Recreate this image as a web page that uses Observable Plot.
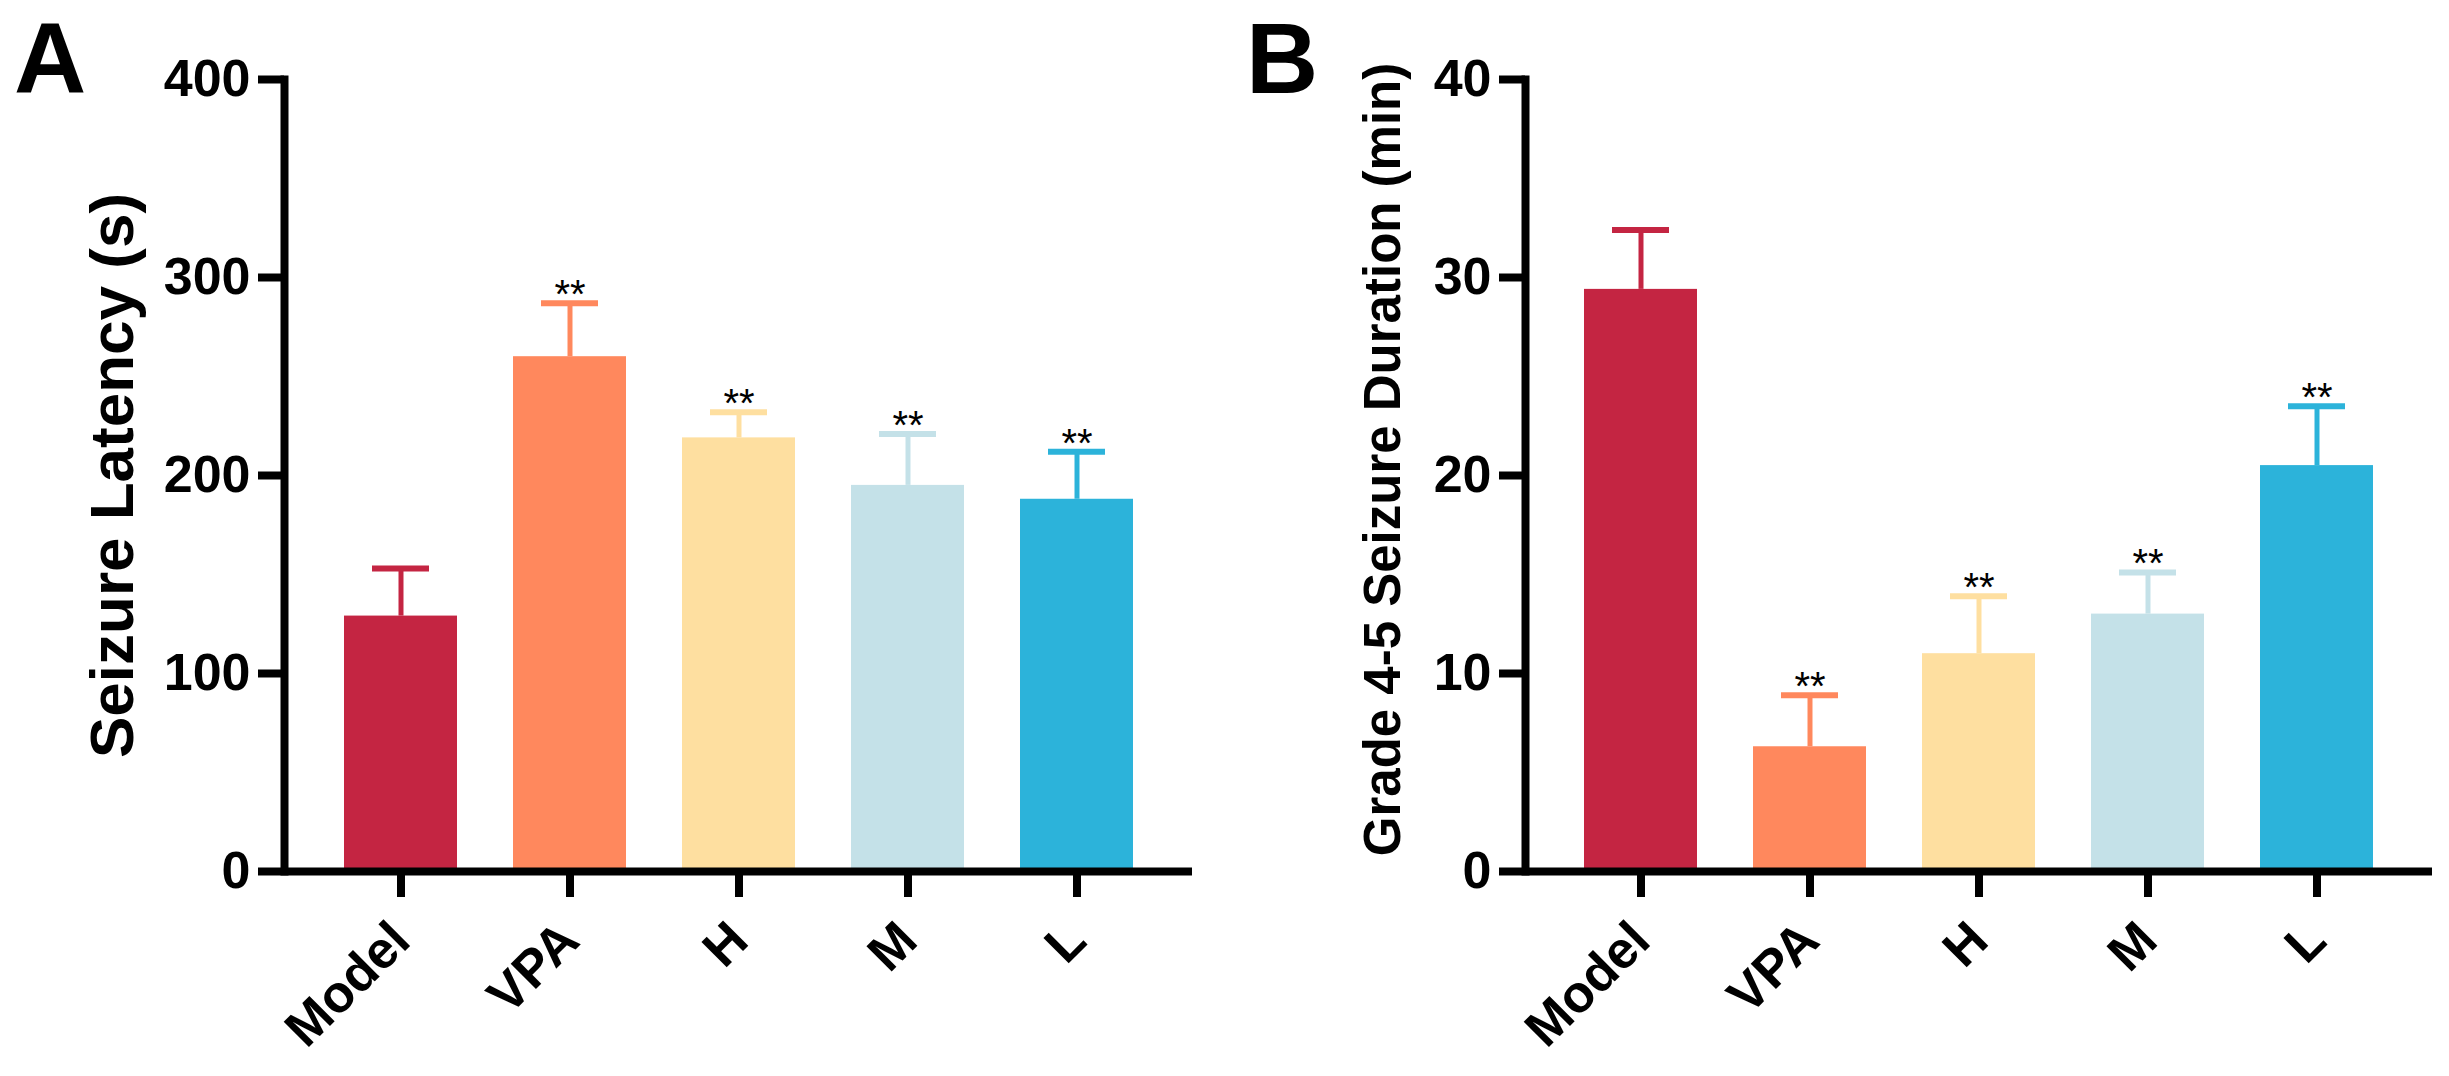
<!DOCTYPE html>
<html>
<head>
<meta charset="utf-8">
<script src="https://cdn.jsdelivr.net/npm/d3@7"></script>
<script src="https://cdn.jsdelivr.net/npm/@observablehq/plot@0.6"></script>
<style>
  body { margin: 0; background: #fff; }
  #wrap { position: relative; display: flex; width: 2449px; height: 1076px; }
  .tag { position: absolute; top: 8px; font: bold 100px/100px "Liberation Sans", Arial, sans-serif; color: #000; }
</style>
</head>
<body>
<div id="wrap">
  <div id="chartA"></div>
  <div id="chartB"></div>
  <div class="tag" style="left:14px">A</div>
  <div class="tag" style="left:1246px">B</div>
</div>
<script>
// groups and colours
const groups = ["Model", "VPA", "H", "M", "L"];
const colors = ["#C42542", "#FF885D", "#FEDFA0", "#C4E1E8", "#2CB3DA"];
const stars = ["", "**", "**", "**", "**"];

// panel A - seizure latency (s)
const latencyMean = [129, 260, 219, 195, 188];
const latencySd = [24, 27, 13, 26, 24];
const latencyTicks = [0, 100, 200, 300, 400];

// panel B - grade 4-5 seizure duration (min)
const durationMean = [29.4, 6.3, 11.0, 13.0, 20.5];
const durationSd = [3.0, 2.6, 2.9, 2.1, 3.0];
const durationTicks = [0, 10, 20, 30, 40];

const font = '"Liberation Sans", Arial, sans-serif';

function panel({mean, sd, ticks, label, labelSize, labelShift, width, marginLeft, marginRight, labelOffset}) {
  const rows = groups.map((g, i) => ({group: g, mean: mean[i], top: mean[i] + sd[i], star: stars[i]}));
  return Plot.plot({
    width,
    height: 1076,
    marginLeft,
    marginRight,
    marginTop: 79,
    marginBottom: 205,
    style: {fontFamily: font, background: "white", color: "black", overflow: "visible"},
    x: {domain: groups, paddingInner: 0.333, paddingOuter: 0.345, label: null},
    y: {domain: [ticks[0], ticks[ticks.length - 1]], label: null},
    color: {domain: groups, range: colors},
    marks: [
      Plot.barY(rows, {x: "group", y: "mean", fill: "group"}),
      Plot.ruleX(rows, {x: "group", y1: "mean", y2: "top", stroke: "group", strokeWidth: 5}),
      Plot.tickY(rows, {x: "group", y: "top", stroke: "group", strokeWidth: 6, insetLeft: 28, insetRight: 28}),
      Plot.text(rows, {x: "group", y: "top", text: "star", fontSize: 40, dy: -8}),
      Plot.axisY({ticks, tickSize: 26, strokeWidth: 8, tickPadding: 8, fontSize: 52, fontWeight: "bold", label: null}),
      Plot.axisX({tickSize: 26, strokeWidth: 8, tickPadding: 34, tickRotate: -45, fontSize: 52, fontWeight: "bold", label: null}),
      Plot.text([label], {frameAnchor: "left", textAnchor: "middle", dx: -labelOffset, dy: labelShift, rotate: -90, fontSize: labelSize, fontWeight: "bold"}),
      Plot.ruleY([0], {strokeWidth: 8}),
      Plot.frame({anchor: "left", strokeWidth: 8, strokeLinecap: "square"})
    ]
  });
}

d3.select("#chartA").append(() => panel({
  mean: latencyMean, sd: latencySd, ticks: latencyTicks,
  label: "Seizure Latency (s)", labelSize: 62, labelShift: 0,
  width: 1224, marginLeft: 284, marginRight: 32, labelOffset: 171
}));

d3.select("#chartB").append(() => panel({
  mean: durationMean, sd: durationSd, ticks: durationTicks,
  label: "Grade 4-5 Seizure Duration (min)", labelSize: 51, labelShift: -16,
  width: 1225, marginLeft: 301, marginRight: 17, labelOffset: 142
}));
</script>
</body>
</html>
